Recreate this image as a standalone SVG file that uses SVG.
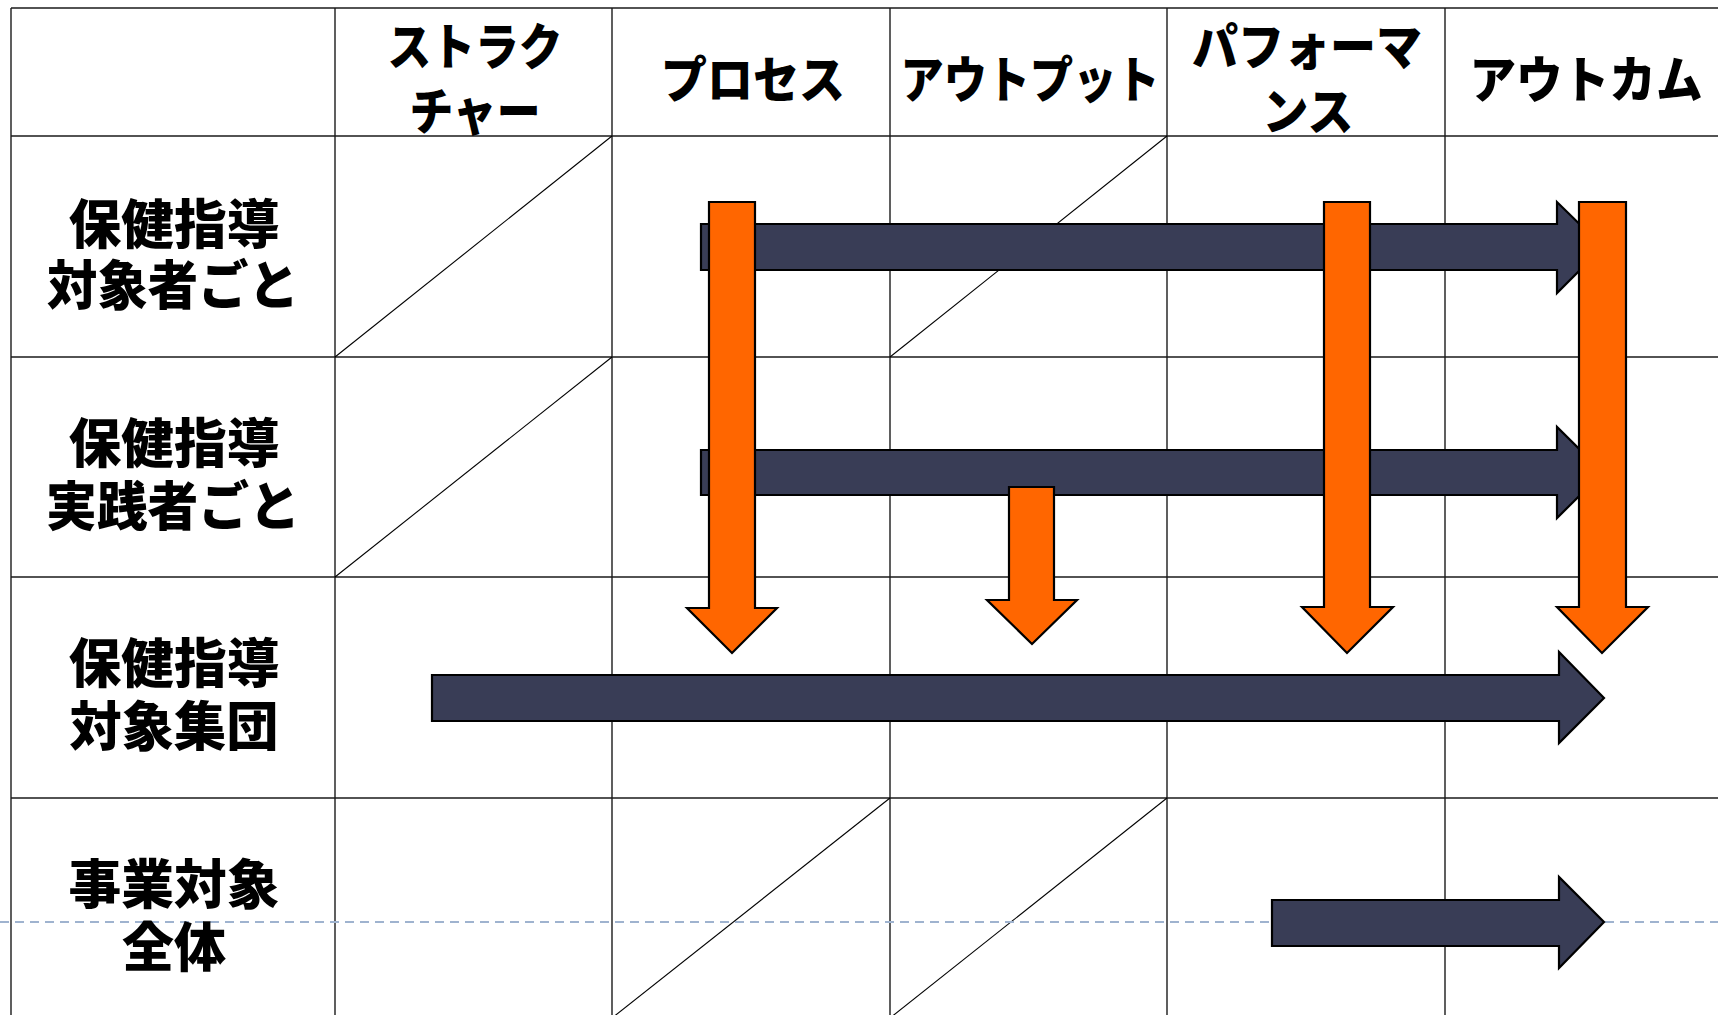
<svg xmlns="http://www.w3.org/2000/svg" width="1718" height="1015" viewBox="0 0 1718 1015">
<style>
.grid line{stroke:#1a1a1a;stroke-width:1.4;fill:none}
.diag line{stroke:#000;stroke-width:1.1}
.dash{stroke:#9fb3cf;stroke-width:2;stroke-dasharray:9 6}
.hd{font-family:"Noto Sans CJK JP","Noto Sans",sans-serif;font-weight:900;font-size:50px;fill:#000;text-anchor:middle}
.rl{font-family:"Noto Sans CJK JP","Noto Sans",sans-serif;font-weight:900;font-size:53px;fill:#000;text-anchor:middle}
.dark{fill:#393d56;stroke:#000;stroke-width:2.2;stroke-linejoin:miter}
.org{fill:#ff6600;stroke:#000;stroke-width:2.2;stroke-linejoin:miter}
</style>
<rect width="1718" height="1015" fill="#fff"/>
<g id="grid" class="grid">
<line x1="11" y1="8" x2="1718" y2="8"/>
<line x1="11" y1="136" x2="1718" y2="136"/>
<line x1="11" y1="357" x2="1718" y2="357"/>
<line x1="11" y1="577" x2="1718" y2="577"/>
<line x1="11" y1="798" x2="1718" y2="798"/>
<line x1="11" y1="8" x2="11" y2="1015"/>
<line x1="335" y1="8" x2="335" y2="1015"/>
<line x1="612" y1="8" x2="612" y2="1015"/>
<line x1="890" y1="8" x2="890" y2="1015"/>
<line x1="1167" y1="8" x2="1167" y2="1015"/>
<line x1="1445" y1="8" x2="1445" y2="1015"/>
</g>
<g id="diagonals" class="diag">
<line x1="335" y1="357" x2="612" y2="136"/>
<line x1="890" y1="357" x2="1167" y2="136"/>
<line x1="335" y1="577" x2="612" y2="357"/>
<line x1="612" y1="1018" x2="890" y2="798"/>
<line x1="890" y1="1018" x2="1167" y2="798"/>
</g>
<line id="guide" class="dash" x1="0" y1="922" x2="1718" y2="922"/>
<g id="headers">
<g id="h-structure"><text class="hd" x="475" y="65" textLength="175" lengthAdjust="spacingAndGlyphs">ストラク</text><text class="hd" x="475" y="130" textLength="131" lengthAdjust="spacingAndGlyphs">チャー</text></g>
<g id="h-process"><text class="hd" x="753" y="98" textLength="184" lengthAdjust="spacingAndGlyphs">プロセス</text></g>
<g id="h-output"><text class="hd" x="1030" y="98" textLength="259" lengthAdjust="spacingAndGlyphs">アウトプット</text></g>
<g id="h-performance"><text class="hd" x="1307" y="65" textLength="230" lengthAdjust="spacingAndGlyphs">パフォーマ</text><text class="hd" x="1308" y="130" textLength="91" lengthAdjust="spacingAndGlyphs">ンス</text></g>
<g id="h-outcome"><text class="hd" x="1586" y="98" textLength="233" lengthAdjust="spacingAndGlyphs">アウトカム</text></g>
</g>
<g id="rows">
<g id="r-target"><text class="rl" x="174" y="244" textLength="211" lengthAdjust="spacingAndGlyphs">保健指導</text><text class="rl" x="173" y="305" textLength="252" lengthAdjust="spacingAndGlyphs">対象者ごと</text></g>
<g id="r-practitioner"><text class="rl" x="174" y="463" textLength="211" lengthAdjust="spacingAndGlyphs">保健指導</text><text class="rl" x="173" y="526" textLength="254" lengthAdjust="spacingAndGlyphs">実践者ごと</text></g>
<g id="r-group"><text class="rl" x="174" y="683" textLength="211" lengthAdjust="spacingAndGlyphs">保健指導</text><text class="rl" x="174" y="746" textLength="209" lengthAdjust="spacingAndGlyphs">対象集団</text></g>
<g id="r-all"><text class="rl" x="174" y="904" textLength="211" lengthAdjust="spacingAndGlyphs">事業対象</text><text class="rl" x="174" y="967" textLength="104" lengthAdjust="spacingAndGlyphs">全体</text></g>
</g>
<g id="connectors">
<polygon class="dark" points="701,224 1557,224 1557,202 1603,247 1557,293 1557,270 701,270"/>
<polygon class="dark" points="701,450 1557,450 1557,427 1603,472.5 1557,518 1557,495 701,495"/>
<polygon class="dark" points="432,675 1559,675 1559,652 1604,698 1559,743 1559,721 432,721"/>
<polygon class="dark" points="1272,900 1559,900 1559,877 1604,922 1559,968 1559,946 1272,946"/>
<polygon class="org" points="709,202 755,202 755,608 777,608 732,653 687,608 709,608"/>
<polygon class="org" points="1009,487 1054,487 1054,600 1077,600 1032,644 987,600 1009,600"/>
<polygon class="org" points="1324,202 1370,202 1370,607 1393,607 1347,653 1302,607 1324,607"/>
<polygon class="org" points="1579,202 1626,202 1626,607 1648,607 1602,653 1557,607 1579,607"/>
</g>
</svg>
